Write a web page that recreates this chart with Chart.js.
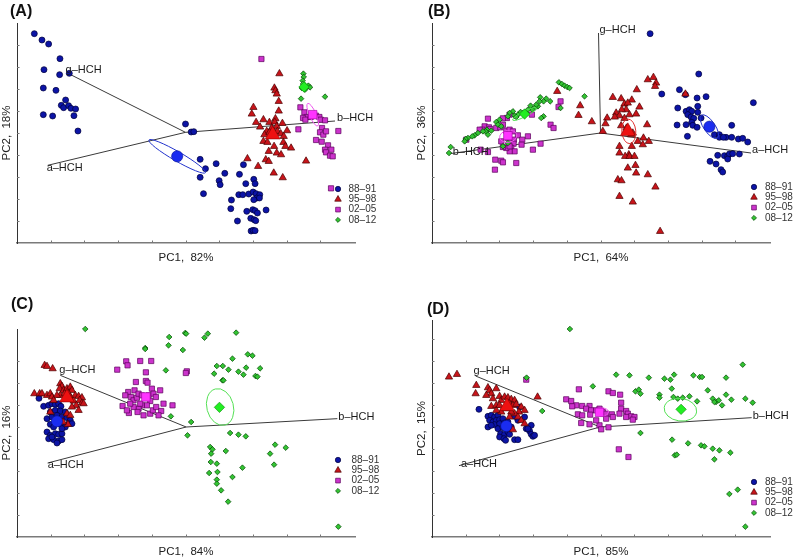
<!DOCTYPE html>
<html>
<head>
<meta charset="utf-8">
<script src="https://cdn.jsdelivr.net/npm/chart.js@4.4.0/dist/chart.umd.min.js"></script>
<style>
  body { margin: 0; background: #fff; width: 793px; height: 559px; position: relative; overflow: hidden; }
  canvas { position: absolute; }
  .tag { position: absolute; font: bold 16px "Liberation Sans", Arial, sans-serif; line-height: 16px; color: #111; }
</style>
</head>
<body>
<canvas id="chartA" width="396" height="279" style="left:0;top:0"></canvas>
<canvas id="chartB" width="378" height="279" style="left:415px;top:0"></canvas>
<canvas id="chartC" width="396" height="279" style="left:0;top:280px"></canvas>
<canvas id="chartD" width="378" height="279" style="left:415px;top:280px"></canvas>
<div class="tag" style="left:10px;top:3px">(A)</div>
<div class="tag" style="left:428px;top:3px">(B)</div>
<div class="tag" style="left:11px;top:296px">(C)</div>
<div class="tag" style="left:427px;top:301px">(D)</div>
<script>
// ============ DATA ============
const periods = ['88–91', '95–98', '02–05', '08–12'];
const loadingNames = ['g–HCH', 'a–HCH', 'b–HCH'];
const pc1Share = ['82%', '64%', '84%', '85%'];
const pc2Share = ['18%', '36%', '16%', '15%'];

// panel A scores [PC1, PC2]
const A8891 = [[0.52,6.28],[0.75,6.09],[0.95,5.97],[1.29,5.53],[0.81,5.20],[1.28,5.05],[1.57,5.09],[0.79,4.65],[1.17,4.58],[1.46,4.29],[1.33,4.13],[1.40,4.06],[1.55,4.12],[1.62,4.04],[1.76,4.02],[0.79,3.85],[1.07,3.81],[1.71,3.82],[1.83,3.36],[5.06,3.57],[5.23,3.33],[5.31,3.34],[5.50,2.51],[5.66,2.23],[5.50,1.97],[5.60,1.48],[5.98,2.38],[6.24,2.09],[6.07,1.87],[6.10,1.75],[6.68,2.06],[6.80,2.35],[7.11,1.91],[7.15,1.78],[6.87,1.78],[6.66,1.45],[6.78,1.45],[6.96,1.47],[7.09,1.53],[7.18,1.48],[7.29,1.45],[7.20,1.35],[7.28,1.35],[7.11,1.30],[6.44,1.29],[6.42,1.03],[6.90,0.95],[7.08,1.00],[7.15,0.97],[7.22,0.90],[7.48,0.99],[6.62,0.66],[7.02,0.74],[7.12,0.70],[7.17,0.67],[7.03,0.36],[7.09,0.38],[7.15,0.37]];
const A9598 = [[7.88,5.08],[7.73,4.65],[7.76,4.57],[7.80,4.47],[7.10,4.07],[7.86,4.25],[7.05,3.87],[7.86,3.96],[7.18,3.62],[7.40,3.70],[7.58,3.62],[7.76,3.73],[7.74,3.63],[7.65,3.45],[7.80,3.50],[7.97,3.59],[7.30,3.48],[7.50,3.35],[7.43,3.25],[7.58,3.32],[7.72,3.33],[7.82,3.35],[7.92,3.28],[8.01,3.20],[8.11,3.37],[7.40,3.05],[7.52,3.02],[7.72,2.90],[8.00,3.02],[8.06,2.90],[8.23,2.85],[7.56,2.75],[7.80,2.70],[7.93,2.65],[7.47,2.50],[7.56,2.45],[6.92,2.53],[7.24,2.30],[7.71,2.10],[7.98,1.96],[8.68,2.46]];
const A0205 = [[7.34,5.52],[8.51,4.07],[8.63,3.92],[8.70,3.78],[8.59,3.75],[8.66,3.70],[8.82,3.78],[8.98,3.82],[9.08,3.78],[9.12,3.70],[9.25,3.68],[9.16,3.45],[9.10,3.32],[9.20,3.25],[9.28,3.35],[8.45,3.41],[9.65,3.36],[8.98,3.09],[9.15,3.04],[9.34,2.93],[9.25,2.80],[9.44,2.80],[9.28,2.72],[9.40,2.62],[9.48,2.60],[9.43,1.64]];
const A0812 = [[8.60,5.08],[8.61,4.98],[8.58,4.87],[8.59,4.77],[8.55,4.65],[8.65,4.60],[8.70,4.68],[8.75,4.72],[8.80,4.67],[8.53,4.33],[9.25,4.39]];
const meansA = [[4.81,2.60],[7.68,3.25],[8.88,3.85],[8.62,4.68]];
const ellA = [[4.81,2.60,0.98,0.14,-30], null, [8.88,3.85,0.37,0.10,-66], [8.62,4.70,0.13,0.08,90]];
const originA = [5.06,3.32];
const loadA = [[1.55,5.08],[0.92,2.33],[9.55,3.66]];

// panel B
const B8891 = [[6.55,6.28],[8.01,5.07],[6.90,4.47],[7.43,4.60],[7.61,4.45],[7.96,4.35],[8.23,4.39],[9.65,4.21],[7.38,4.05],[7.63,3.95],[7.73,4.00],[7.80,3.95],[7.98,4.10],[7.98,3.92],[7.68,3.85],[7.78,3.78],[7.86,3.74],[7.80,3.62],[8.08,3.75],[7.63,3.55],[7.36,3.54],[7.83,3.53],[7.96,3.47],[9.00,3.53],[7.67,3.20],[8.48,3.25],[8.63,3.25],[8.63,3.17],[8.83,3.17],[9.00,3.17],[9.20,3.12],[9.33,3.14],[9.48,3.03],[8.75,3.17],[8.58,2.63],[8.78,2.62],[8.88,2.60],[8.93,2.67],[9.03,2.68],[9.23,2.67],[8.88,2.52],[8.35,2.45],[8.53,2.37],[8.68,2.20],[8.73,2.13]];
const B9598 = [[6.48,4.90],[6.65,4.97],[6.73,4.80],[6.70,4.70],[6.15,4.60],[7.61,4.47],[5.43,4.37],[5.68,4.33],[6.00,4.29],[5.78,4.17],[5.88,4.20],[5.83,4.00],[6.23,4.08],[4.45,4.12],[5.70,4.00],[5.53,3.90],[5.63,3.82],[5.49,3.78],[5.93,3.85],[6.13,3.87],[5.26,3.75],[5.78,3.74],[4.80,3.64],[4.40,3.83],[5.21,3.58],[6.46,3.55],[5.68,3.52],[5.84,3.45],[6.03,3.30],[5.98,3.25],[5.13,3.35],[6.35,3.15],[6.51,3.05],[6.18,3.05],[6.33,2.95],[6.00,2.90],[5.63,2.70],[5.91,2.65],[5.80,2.60],[5.93,2.60],[6.08,2.60],[5.63,2.90],[5.88,2.25],[6.11,2.33],[6.13,2.10],[6.48,2.05],[5.58,1.90],[5.69,1.87],[6.71,1.68],[5.63,1.40],[6.03,1.23],[6.85,0.35],[3.76,4.55]];
const B0205 = [[3.86,4.25],[3.80,4.08],[3.00,3.85],[2.33,3.85],[2.25,3.75],[2.13,3.74],[1.68,3.73],[1.58,3.50],[1.51,3.40],[1.43,3.40],[1.71,3.47],[1.75,3.42],[1.93,3.45],[2.13,3.55],[2.05,3.47],[2.23,3.37],[2.33,3.40],[2.43,3.35],[2.58,3.23],[2.88,3.20],[2.25,3.22],[2.28,3.15],[2.46,3.10],[2.71,3.10],[2.69,2.95],[2.45,2.98],[2.38,2.85],[2.48,2.75],[2.33,2.75],[2.23,2.85],[2.13,2.88],[2.08,3.05],[3.26,2.98],[3.03,2.80],[3.56,3.55],[3.65,3.45],[1.46,2.80],[1.68,2.73],[1.90,2.50],[2.08,2.47],[2.13,2.42],[2.53,2.40],[1.89,2.20],[1.03,3.10],[2.33,2.90]];
const B0812 = [[3.81,4.82],[3.90,4.77],[3.98,4.72],[4.06,4.68],[4.13,4.65],[4.58,4.40],[3.86,4.05],[3.55,4.25],[3.43,4.33],[3.35,4.25],[3.25,4.37],[3.23,4.25],[3.18,4.10],[3.08,4.05],[3.13,4.15],[3.01,4.00],[2.96,4.12],[2.88,4.00],[2.83,3.90],[2.73,3.90],[2.66,3.93],[2.58,3.85],[2.48,3.82],[2.43,3.95],[2.33,3.90],[2.28,3.80],[3.35,3.80],[3.28,3.75],[2.03,3.70],[1.93,3.63],[1.98,3.55],[2.08,3.50],[1.65,3.40],[1.61,3.35],[1.68,3.25],[1.78,3.37],[1.53,3.35],[1.38,3.30],[1.28,3.23],[1.21,3.20],[1.08,3.15],[1.01,3.12],[0.98,3.05],[0.56,2.88],[0.51,2.70],[2.28,3.00],[2.13,2.90],[2.53,3.78]];
const meansB = [[8.33,3.49],[5.88,3.35],[2.28,3.22],[2.78,3.87]];
const ellB = [[8.33,3.49,0.42,0.17,-55], [5.91,3.35,0.37,0.21,95], [2.29,3.20,0.26,0.18,10], [2.78,3.87,0.40,0.08,27]];
const originB = [5.06,3.30];
const loadB = [[5.00,6.30],[9.58,2.70],[0.53,2.68]];

// panel C
const C8891 = [[0.66,4.16],[0.80,3.92],[0.95,3.95],[1.05,4.00],[1.15,3.98],[1.25,4.00],[1.32,3.92],[1.00,3.75],[1.15,3.80],[1.30,3.78],[1.45,3.75],[0.90,3.55],[1.05,3.60],[1.20,3.65],[1.35,3.60],[1.50,3.58],[1.60,3.50],[1.00,3.38],[1.10,3.30],[1.30,3.38],[1.45,3.30],[1.55,3.40],[0.90,3.15],[1.00,3.05],[1.15,3.10],[1.25,3.08],[1.35,3.10],[0.95,2.95],[1.10,2.92],[1.25,2.88],[1.35,2.92],[1.20,2.82],[1.05,3.00],[1.65,3.40],[1.35,3.25]];
const C9598 = [[0.83,5.15],[0.90,5.12],[1.07,5.05],[0.52,4.30],[0.68,4.30],[0.75,4.30],[0.90,4.25],[1.00,4.30],[1.05,4.20],[1.30,4.60],[1.35,4.52],[1.28,4.45],[1.40,4.40],[1.50,4.45],[1.60,4.50],[1.65,4.40],[1.55,4.30],[1.30,4.25],[1.60,4.20],[1.75,4.25],[1.85,4.22],[1.95,4.18],[1.88,4.10],[1.70,4.08],[1.78,3.95],[1.95,4.02],[2.00,4.00],[1.65,3.90],[1.85,3.80],[1.50,3.70],[1.60,3.65],[1.53,3.38],[1.38,3.45],[1.00,3.75],[1.20,4.25],[1.10,4.10],[1.43,4.30]];
const C0205 = [[3.28,5.27],[3.32,5.15],[3.70,5.28],[4.03,5.28],[3.01,5.02],[3.87,4.94],[3.87,4.68],[3.57,4.65],[3.92,4.63],[4.05,4.45],[4.30,4.40],[3.53,4.40],[3.34,4.35],[3.25,4.25],[3.42,4.20],[3.50,4.10],[3.60,4.18],[3.65,4.30],[3.75,4.25],[3.95,4.25],[4.10,4.30],[4.17,4.20],[4.00,4.08],[3.90,3.95],[3.75,3.95],[3.65,3.85],[3.50,3.90],[3.40,4.00],[3.17,3.93],[3.36,3.72],[3.62,3.75],[3.80,3.65],[4.00,3.70],[4.08,3.80],[4.18,3.90],[4.33,3.78],[4.25,3.65],[4.40,4.00],[4.67,3.95],[3.70,4.00],[3.30,3.80],[5.10,4.97],[5.07,4.92]];
const C0812 = [[2.05,6.24],[3.85,5.67],[3.85,5.64],[4.57,6.00],[4.55,5.75],[5.05,6.12],[5.08,6.10],[4.98,5.61],[5.63,5.98],[5.73,6.10],[6.58,6.13],[6.93,5.48],[7.07,5.44],[6.47,5.35],[6.00,5.13],[6.18,5.13],[6.35,5.02],[6.88,5.08],[6.65,4.96],[6.80,4.87],[7.30,5.06],[7.16,4.83],[7.22,4.81],[5.92,4.90],[6.17,4.70],[6.20,4.70],[4.47,5.00],[4.62,3.62],[5.23,3.45],[5.12,3.05],[6.40,3.12],[6.65,3.07],[6.87,3.02],[5.80,2.70],[5.87,2.63],[5.83,2.50],[6.27,2.58],[5.82,2.25],[6.00,2.20],[7.75,2.77],[8.07,2.68],[7.60,2.50],[7.72,2.17],[6.77,2.08],[5.77,1.92],[6.02,1.95],[6.47,1.80],[6.00,1.72],[6.00,1.60],[6.13,1.40],[6.34,1.06],[9.65,0.31]];
const meansC = [[1.20,3.47],[1.50,4.18],[3.87,4.20],[6.08,3.89]];
const ellC = [null, null, null, [6.10,3.90,0.56,0.40,-75]];
const originC = [5.08,3.30];
const loadC = [[1.30,4.85],[0.92,2.22],[9.62,3.55]];

// panel D
const D8891 = [[1.41,3.83],[1.68,3.62],[1.78,3.65],[1.88,3.60],[1.98,3.65],[1.73,3.50],[1.83,3.45],[1.93,3.50],[2.03,3.52],[2.13,3.55],[1.88,3.37],[2.03,3.40],[2.18,3.42],[2.28,3.45],[1.98,3.25],[2.13,3.28],[2.23,3.25],[2.06,3.10],[2.18,3.08],[2.28,3.15],[2.03,3.00],[2.16,2.95],[2.21,2.90],[2.48,2.92],[2.58,2.92],[2.38,3.30],[2.33,3.08],[2.83,3.25],[2.93,3.18],[2.98,3.08],[3.03,3.02],[3.08,3.05],[2.98,3.35],[2.88,3.25],[2.58,3.50],[2.48,3.62],[2.63,3.90],[2.78,3.60],[1.68,3.30],[1.78,3.35]];
const D9598 = [[0.51,4.80],[0.75,4.88],[1.33,4.55],[1.31,4.30],[1.68,4.48],[1.73,4.40],[1.78,4.30],[1.63,4.25],[1.93,4.45],[2.03,4.22],[1.83,4.15],[1.78,3.92],[1.93,3.95],[2.08,4.10],[2.18,4.20],[2.28,4.18],[2.38,4.13],[2.48,4.10],[2.33,4.00],[2.43,3.95],[2.53,3.98],[2.68,3.90],[2.78,3.80],[2.61,3.75],[2.48,3.70],[2.38,3.75],[2.33,3.60],[2.58,3.60],[2.68,3.50],[2.78,3.40],[2.43,3.22],[3.17,4.20],[2.08,3.75],[2.23,3.85],[1.93,3.80],[2.03,3.95]];
const D0205 = [[2.83,4.72],[4.41,4.43],[5.30,4.37],[5.43,4.32],[5.65,4.27],[4.03,4.13],[4.18,4.08],[4.33,3.95],[4.21,3.92],[4.51,3.93],[4.73,3.93],[4.63,3.85],[4.78,3.80],[4.93,3.80],[5.03,3.85],[5.13,3.75],[5.23,3.70],[5.40,3.68],[5.68,4.03],[5.68,3.85],[5.83,3.78],[5.88,3.70],[5.98,3.62],[6.08,3.60],[6.03,3.52],[5.83,3.60],[5.63,3.70],[5.43,3.60],[5.23,3.55],[4.38,3.68],[4.51,3.65],[4.75,3.67],[4.48,3.42],[4.73,3.38],[5.03,3.35],[5.08,3.23],[5.30,3.29],[5.61,2.63],[5.90,2.40],[4.93,3.50]];
const D0812 = [[4.14,6.24],[2.84,4.78],[3.31,3.78],[4.83,4.52],[5.53,4.87],[5.93,4.85],[6.51,4.78],[6.98,4.75],[7.16,4.72],[7.27,4.87],[7.85,4.85],[8.04,4.80],[8.11,4.80],[8.83,4.78],[9.33,5.17],[6.11,4.37],[6.21,4.42],[6.26,4.30],[6.83,4.27],[6.83,4.18],[7.20,4.45],[7.25,4.20],[7.38,4.15],[7.53,4.18],[7.73,4.22],[7.96,4.07],[8.28,4.40],[8.43,4.15],[8.53,4.05],[8.61,4.10],[8.48,4.05],[8.71,3.95],[8.83,4.27],[8.99,4.12],[9.41,4.15],[9.63,4.03],[6.26,3.12],[7.21,2.92],[7.29,2.45],[7.35,2.47],[7.69,2.81],[8.08,2.75],[8.18,2.72],[8.43,2.65],[8.48,2.33],[8.63,2.60],[8.96,2.53],[8.93,1.29],[9.18,1.42],[9.41,0.31]];
const meansD = [[2.23,3.33],[2.25,3.92],[5.03,3.74],[7.48,3.83]];
const ellD = [null, null, [5.10,3.75,0.20,0.12,0], [7.46,3.82,0.49,0.34,-8]];
const originD = [5.05,3.30];
const loadD = [[1.31,4.83],[0.81,2.14],[9.60,3.58]];

// ============ STYLE ============
const FONT = '"Liberation Sans", Arial, Helvetica, sans-serif';
Chart.defaults.font.family = FONT;
Chart.defaults.color = '#222';

const markStyle = [
  { style: 'circle',   radius: 3.0, fill: '#0c14a6', edge: '#00003a' },
  { style: 'triangle', radius: 4.2, fill: '#c8141a', edge: '#4a0000' },
  { style: 'rect',     radius: 3.7, fill: '#cc33cc', edge: '#5a005a' },
  { style: 'rectRot',  radius: 2.8, fill: '#33c433', edge: '#004400' }
];
const meanStyle = [
  { radius: 5.6, fill: '#1a2cf0', edge: '#0a1490' },
  { radius: 8.5, fill: '#ee1111', edge: '#900000' },
  { radius: 6.0, fill: '#ff33ff', edge: '#a000a0' },
  { radius: 5.2, fill: '#22ee22', edge: '#008800' }
];
const ellipseColor = ['#2233cc', '#e03030', '#ee55ee', '#55e055'];

const panels = [
  { id: 'chartA', groups: [A8891, A9598, A0205, A0812], means: meansA, ells: ellA, origin: originA, loads: loadA,
    yMax: 6.6, top: 23, bottom: 243, w: 396, nudge: [[-3,-4],[-1,3],[2,-3]], legend: { dx: -17, dy: -54, gap: 10.5 } },
  { id: 'chartB', groups: [B8891, B9598, B0205, B0812], means: meansB, ells: ellB, origin: originB, loads: loadB,
    yMax: 6.6, top: 23, bottom: 243, w: 378, nudge: [[1,-3],[1,-3],[3,-2]], legend: { dx: -16, dy: -56, gap: 11 } },
  { id: 'chartC', groups: [C8891, C9598, C0205, C0812], means: meansC, ells: ellC, origin: originC, loads: loadC,
    yMax: 6.24, top: 49, bottom: 257, w: 396, nudge: [[-1,-5],[0,2],[1,-2]], legend: { dx: -17, dy: -77, gap: 13.5 } },
  { id: 'chartD', groups: [D8891, D9598, D0205, D0812], means: meansD, ells: ellD, origin: originD, loads: loadD,
    yMax: 6.51, top: 40, bottom: 257, w: 378, nudge: [[-2,-5],[2,-2],[1,-2]], legend: { dx: -16, dy: -55, gap: 11 } }
];

const xy = arr => arr.map(p => ({ x: p[0], y: p[1] }));

// ellipses, inward ticks, loading labels and legend
function makeBiplot(p) {
  return {
    id: 'biplot',
    afterDatasetDraw(chart, args) {
      if (args.index !== 6) return; // after the 08-12 points, before the means
      const { ctx, scales: { x, y } } = chart;
      const kx = x.getPixelForValue(1) - x.getPixelForValue(0);
      const ky = y.getPixelForValue(0) - y.getPixelForValue(1);
      p.ells.forEach((e, i) => {
        if (!e) return;
        ctx.save();
        ctx.beginPath();
        ctx.translate(x.getPixelForValue(e[0]), y.getPixelForValue(e[1]));
        ctx.scale(kx, -ky);
        ctx.rotate(e[4] * Math.PI / 180);
        ctx.ellipse(0, 0, e[2], e[3], 0, 0, Math.PI * 2);
        ctx.restore();
        ctx.save();
        ctx.strokeStyle = ellipseColor[i];
        ctx.lineWidth = 1;
        ctx.stroke();
        ctx.restore();
      });
    },
    afterDraw(chart) {
      const { ctx, chartArea: a, scales: { x, y } } = chart;
      ctx.save();
      ctx.strokeStyle = '#777';
      ctx.lineWidth = 1;
      ctx.beginPath();
      x.ticks.forEach(t => {
        if (t.value <= 0 || t.value > x.max - 0.3) return;
        const px = Math.round(x.getPixelForValue(t.value)) + 0.5;
        ctx.moveTo(px, a.bottom); ctx.lineTo(px, a.bottom - 2.5);
      });
      y.ticks.forEach(t => {
        if (t.value <= 0 || t.value > y.max - 0.3) return;
        const py = Math.round(y.getPixelForValue(t.value)) + 0.5;
        ctx.moveTo(a.left, py); ctx.lineTo(a.left + 2.5, py);
      });
      ctx.stroke();

      ctx.font = '11px ' + FONT;
      ctx.fillStyle = '#1a1a1a';
      ctx.textAlign = 'left';
      ctx.textBaseline = 'middle';
      p.loads.forEach((q, k) => {
        ctx.fillText(loadingNames[k], x.getPixelForValue(q[0]) + p.nudge[k][0], y.getPixelForValue(q[1]) + p.nudge[k][1]);
      });

      const lx = a.right + p.legend.dx, ly0 = a.bottom + p.legend.dy;
      periods.forEach((name, i) => {
        const s = markStyle[i];
        const ly = ly0 + i * 10.3;
        ctx.fillStyle = s.fill;
        ctx.strokeStyle = s.edge;
        ctx.lineWidth = 0.7;
        Chart.helpers.drawPoint(ctx, { pointStyle: s.style, radius: s.radius * 0.9, borderWidth: 0.7, rotation: 0 }, lx, ly);
        ctx.fillStyle = '#333';
        ctx.font = '10px ' + FONT;
        ctx.fillText(name, lx + p.legend.gap, ly);
      });
      ctx.restore();
    }
  };
}

panels.forEach((p, n) => {
  const datasets = [];
  p.loads.forEach(q => datasets.push({
    data: xy([p.origin, q]), showLine: true, borderColor: '#3a3a3a', borderWidth: 1,
    pointRadius: 0, pointHoverRadius: 0, order: 10, clip: false
  }));
  p.groups.forEach((g, i) => {
    const s = markStyle[i];
    datasets.push({
      label: periods[i], data: xy(g), pointStyle: s.style, pointRadius: s.radius, pointHoverRadius: s.radius,
      backgroundColor: s.fill, borderColor: s.edge, borderWidth: 0.7, order: 9 - i, clip: false
    });
  });
  datasets.push({
    label: 'means', data: xy(p.means),
    pointStyle: markStyle.map(s => s.style),
    pointRadius: meanStyle.map(m => m.radius),
    pointHoverRadius: meanStyle.map(m => m.radius),
    backgroundColor: meanStyle.map(m => m.fill),
    borderColor: meanStyle.map(m => m.edge),
    borderWidth: 0.6, order: 0, clip: false
  });

  new Chart(document.getElementById(p.id), {
    type: 'scatter',
    data: { datasets },
    options: {
      responsive: false,
      animation: false,
      devicePixelRatio: 1,
      events: [],
      layout: { padding: { left: 0, top: p.top, right: p.w - 355, bottom: 279 - p.bottom - 21.9 } },
      plugins: { legend: { display: false }, tooltip: { enabled: false } },
      scales: {
        x: {
          type: 'linear', min: 0, max: 10.15,
          ticks: { display: false, stepSize: 1.0125, autoSkip: false },
          grid: { display: false, drawTicks: false },
          border: { display: true, color: '#7a7a7a', width: 1.5 },
          title: { display: true, text: 'PC1,  ' + pc1Share[n], color: '#222', font: { size: 11.5 }, padding: { top: 8.1, bottom: 0 } }
        },
        y: {
          type: 'linear', min: 0, max: p.yMax,
          ticks: { display: false, stepSize: 0.66, autoSkip: false },
          grid: { display: false, drawTicks: false },
          border: { display: true, color: '#333', width: 1 },
          title: { display: true, text: 'PC2,  ' + pc2Share[n], color: '#222', font: { size: 11.5 }, padding: { top: 0, bottom: 3.2 } }
        }
      }
    },
    plugins: [makeBiplot(p)]
  });
});
</script>
</body>
</html>
